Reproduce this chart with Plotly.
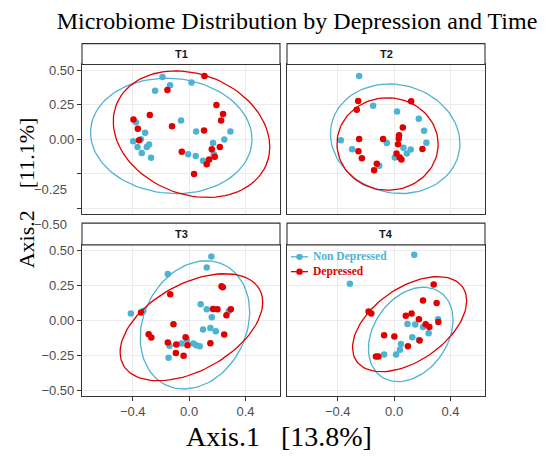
import numpy as np
import plotly.graph_objects as go

# ---------------- data ----------------
times = ["T1", "T2", "T3", "T4"]
group_names = ["Non Depressed", "Depressed"]
group_colors = ["#4DB3D3", "#E00000"]

t1_nd_x = [-0.189, -0.135, -0.241, 0.017, -0.057, -0.378, -0.312, 0.050, 0.293, -0.397, -0.343,
           0.250, -0.366, -0.284, -0.300, 0.170, -0.336, -0.270, -0.007, 0.047, 0.099, 0.175]
t1_nd_y = [0.450, 0.390, 0.350, 0.410, 0.136, 0.124, 0.048, 0.057, 0.057, -0.014, 0.000,
           -0.002, -0.055, -0.038, -0.055, -0.026, -0.098, -0.133, -0.107, -0.121, -0.155, -0.107]
t1_d_x = [0.109, -0.154, 0.194, 0.241, -0.279, -0.395, 0.227, -0.121, 0.106, -0.364, -0.355,
          0.218, 0.161, -0.052, 0.182, 0.142, 0.125, 0.035]
t1_d_y = [0.457, 0.355, 0.248, 0.183, 0.176, 0.143, 0.136, 0.095, 0.064, 0.076, -0.007,
          -0.055, -0.071, -0.090, -0.126, -0.145, -0.179, -0.250]

t2_nd_x = [-0.248, -0.149, 0.021, 0.175, 0.213, -0.378, 0.229, -0.052, -0.298, 0.066, 0.118,
           0.090, 0.005, -0.106]
t2_nd_y = [0.457, 0.243, 0.200, 0.148, 0.062, -0.007, -0.024, -0.026, -0.071, -0.060, -0.074,
           -0.102, -0.131, -0.190]
t2_d_x = [-0.255, 0.121, -0.265, 0.062, 0.035, 0.033, -0.248, -0.078, 0.028, -0.253, 0.201,
          0.017, -0.229, 0.040, 0.052, -0.123, -0.142]
t2_d_y = [0.276, 0.274, 0.214, 0.086, 0.029, 0.005, 0.002, 0.002, -0.036, -0.086, -0.069,
          -0.102, -0.136, -0.131, -0.145, -0.176, -0.224]

t3_nd_x = [0.158, 0.125, -0.151, -0.413, -0.325, 0.082, 0.125, 0.282, 0.161, 0.099, 0.151,
           0.189, -0.139, -0.054, -0.016, 0.030, 0.051, 0.075, -0.146]
t3_nd_y = [0.457, 0.379, 0.331, 0.048, 0.067, 0.114, 0.079, 0.067, 0.021, -0.067, -0.055,
           -0.079, -0.183, -0.167, -0.140, -0.167, -0.179, -0.186, -0.269]
t3_d_x = [0.230, 0.239, -0.134, -0.341, 0.170, 0.201, 0.296, 0.265, -0.111, -0.287, -0.268,
          0.249, -0.025, -0.151, -0.091, -0.011, 0.151, -0.094, -0.039]
t3_d_y = [0.243, 0.236, 0.186, 0.055, 0.081, 0.079, 0.079, 0.036, -0.029, -0.100, -0.124,
          -0.102, -0.121, -0.159, -0.174, -0.179, -0.164, -0.234, -0.255]

t4_nd_x = [0.143, -0.314, 0.095, 0.150, 0.205, 0.312, 0.245, 0.129, 0.048, 0.041, 0.014,
           -0.071, 0.176]
t4_nd_y = [0.469, 0.262, -0.026, -0.031, -0.048, 0.007, -0.093, -0.121, -0.171, -0.212, -0.245,
           -0.245, -0.141]
t4_d_x = [0.281, 0.205, 0.302, -0.181, -0.162, 0.083, 0.124, 0.176, 0.224, 0.250, 0.314,
          -0.071, 0.002, 0.181, 0.098, -0.129, -0.112]
t4_d_y = [0.257, 0.141, 0.124, 0.062, 0.048, 0.033, 0.048, 0.007, -0.029, -0.048, -0.012,
          -0.107, -0.117, -0.145, -0.186, -0.260, -0.260]

x_ticks = [-0.4, 0.0, 0.4]
x_ticklabels = ["\u22120.4", "0.0", "0.4"]
y_ticks = [-0.5, -0.25, 0.0, 0.25, 0.5]
y_ticklabels = ["\u22120.50", "\u22120.25", "0.00", "0.25", "0.50"]

panel_data = {
    "T1": [(t1_nd_x, t1_nd_y), (t1_d_x, t1_d_y)],
    "T2": [(t2_nd_x, t2_nd_y), (t2_d_x, t2_d_y)],
    "T3": [(t3_nd_x, t3_nd_y), (t3_d_x, t3_d_y)],
    "T4": [(t4_nd_x, t4_nd_y), (t4_d_x, t4_d_y)],
}


# ---------------- stat_ellipse (type = "t", level = 0.95) ----------------
def cov_trob(pts, nu=5, maxit=25, tol=0.01):
    n, p = pts.shape
    wt = np.ones(n)
    loc = pts.mean(axis=0)
    w = np.sqrt(wt)
    X = pts - loc
    for _ in range(maxit):
        w0 = w
        X = pts - loc
        A = np.sqrt(w / w.sum())[:, None] * X
        _, d, vt = np.linalg.svd(A, full_matrices=False)
        wX = X @ vt.T @ np.diag(1.0 / d)
        Q = (wX ** 2).sum(axis=1)
        w = (wt * (nu + p)) / (nu + Q)
        loc = (w[:, None] * pts).sum(axis=0) / w.sum()
        if np.all(np.abs(w - w0) < tol):
            break
    cov = (np.sqrt(w)[:, None] * X).T @ (np.sqrt(w)[:, None] * X) / wt.sum()
    return loc, cov


def ellipse(xs, ys, level=0.95, segments=101):
    pts = np.column_stack([xs, ys])
    center, shape = cov_trob(pts)
    dfd = len(xs) - 1
    qf = (dfd / 2.0) * ((1 - level) ** (-2.0 / dfd) - 1)
    radius = np.sqrt(2 * qf)
    L = np.linalg.cholesky(shape)
    ang = np.linspace(0, 2 * np.pi, segments)
    circ = np.vstack([np.cos(ang), np.sin(ang)])
    e = center[:, None] + radius * (L @ circ)
    return e[0], e[1]


# ---------------- layout geometry ----------------
W, H = 548, 468
def px(v):
    return v / W
def py(v):
    return (H - v) / H

col_dom = [[px(82), px(280)], [px(287), px(485)]]
row_dom = [[py(214), py(63)], [py(397), py(245)]]
strip_rows = [(py(63), py(42)), (py(245), py(223))]

x_range = [-0.76, 0.645]
y_range = [-0.54, 0.54]

fig = go.Figure()

axis_common = dict(
    showgrid=True, gridcolor="#EBEBEB", gridwidth=1, zeroline=False,
    showline=True, mirror=True, linecolor="#333333", linewidth=1.1,
    tickfont=dict(family="Liberation Sans, Arial", size=13, color="#4D4D4D"),
    ticklen=4, tickwidth=1.1, tickcolor="#333333",
)

for i, t in enumerate(times):
    r, c = divmod(i, 2)
    idx = "" if i == 0 else str(i + 1)
    xa, ya = "x" + idx, "y" + idx
    for g in range(2):
        xs, ys = panel_data[t][g]
        fig.add_trace(go.Scatter(
            x=xs, y=ys, mode="markers", xaxis=xa, yaxis=ya,
            marker=dict(color=group_colors[g], size=6.5, line=dict(width=0)),
            showlegend=False, hoverinfo="skip"))
    for g in range(2):
        xs, ys = panel_data[t][g]
        ex, ey = ellipse(xs, ys)
        fig.add_trace(go.Scatter(
            x=ex, y=ey, mode="lines", xaxis=xa, yaxis=ya,
            line=dict(color=group_colors[g], width=1.3),
            showlegend=False, hoverinfo="skip"))

    xaxis = dict(axis_common, domain=col_dom[c], range=x_range, anchor=ya,
                 tickvals=x_ticks, ticktext=x_ticklabels,
                 ticks="outside" if r == 1 else "", showticklabels=(r == 1))
    if r == 0:
        ytext = ["", "", "0.00", "0.25", "0.50"]
    else:
        ytext = y_ticklabels
    yaxis = dict(axis_common, domain=row_dom[r], range=y_range, anchor=xa,
                 tickvals=y_ticks, ticktext=ytext,
                 ticks="outside" if c == 0 else "", showticklabels=(c == 0))
    fig.update_layout(**{"xaxis" + idx: xaxis, "yaxis" + idx: yaxis})

    # strip
    y0, y1 = strip_rows[r]
    fig.add_shape(type="rect", xref="paper", yref="paper",
                  x0=col_dom[c][0], x1=col_dom[c][1], y0=y0, y1=y1,
                  fillcolor="white", line=dict(color="#333333", width=1.1))
    fig.add_annotation(x=(col_dom[c][0] + col_dom[c][1]) / 2, y=(y0 + y1) / 2,
                       xref="paper", yref="paper", text="<b>%s</b>" % t, showarrow=False,
                       xanchor="center", yanchor="middle",
                       font=dict(family="Liberation Sans, Arial", size=11, color="#1A1A1A"))

# displaced lower tick labels of the top-left panel (as in the reference)
for v, lab in [(-0.25, "\u22120.25"), (-0.5, "\u22120.50")]:
    fig.add_annotation(x=px(69), xref="paper", y=v, yref="y", yshift=-16,
                       text=lab, showarrow=False, xanchor="right", yanchor="middle",
                       font=dict(family="Liberation Sans, Arial", size=13, color="#4D4D4D"))

# legend (drawn inside panel T4, top-left)
leg_x0, leg_y0, leg_dy = 291, 257, 15
for g in range(2):
    yy = py(leg_y0 + g * leg_dy)
    fig.add_shape(type="line", xref="paper", yref="paper",
                  x0=px(leg_x0), x1=px(leg_x0 + 17), y0=yy, y1=yy,
                  line=dict(color=group_colors[g], width=1.3))
    fig.add_shape(type="circle", xref="paper", yref="paper",
                  x0=px(leg_x0 + 8.5 - 3.2), x1=px(leg_x0 + 8.5 + 3.2),
                  y0=yy - 3.2 / H, y1=yy + 3.2 / H,
                  fillcolor=group_colors[g], line=dict(width=0))
    fig.add_annotation(x=px(leg_x0 + 20), y=yy, xref="paper", yref="paper",
                       text="<b>%s</b>" % group_names[g], showarrow=False,
                       xanchor="left", yanchor="middle",
                       font=dict(family="Liberation Serif, Times New Roman", size=11.5,
                                 color=group_colors[g]))

fig.update_layout(
    width=W, height=H,
    margin=dict(l=0, r=0, t=0, b=0),
    paper_bgcolor="white", plot_bgcolor="white",
    title=dict(text="Microbiome Distribution by Depression and Time",
               x=px(297), y=py(21), xanchor="center", yanchor="middle",
               font=dict(family="Liberation Serif, Times New Roman", size=24, color="black")),
    showlegend=False,
)

fig.add_annotation(x=px(279), y=py(438), xref="paper", yref="paper",
                   text="Axis.1\u00a0\u00a0\u00a0[13.8%]", showarrow=False,
                   xanchor="center", yanchor="middle",
                   font=dict(family="Liberation Serif, Times New Roman", size=28, color="black"))
fig.add_annotation(x=px(26), y=py(193), xref="paper", yref="paper",
                   text="Axis.2\u00a0\u00a0\u00a0\u00a0[11.1%]", showarrow=False, textangle=-90,
                   xanchor="center", yanchor="middle",
                   font=dict(family="Liberation Serif, Times New Roman", size=22, color="black"))

fig.write_html("out.html")
